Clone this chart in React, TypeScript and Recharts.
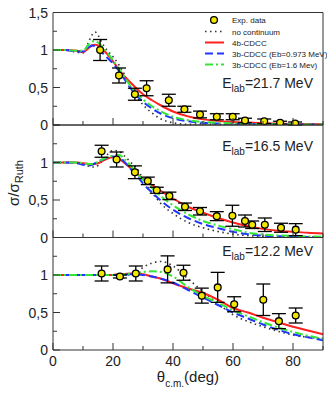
import { ComposedChart, Line, Scatter, ErrorBar, XAxis, YAxis } from 'recharts';

const W = 327;
const H = 394;
const FONT = '"Liberation Sans", Arial, sans-serif';
const axisColor = '#333';

// angle grid (deg) on which the model curves were read
const angles = [0, 4, 8, 10, 12, 13, 14, 15, 16, 18, 20, 22, 24, 26, 28, 30, 33, 36, 40, 45, 50, 55, 60, 65, 70, 75, 80, 85, 90];

// E_lab = 21.7 MeV
const noCont21 = [1, 1, 0.97, 0.96, 1.12, 1.2, 1.24, 1.2, 1.12, 1.0, 0.91, 0.8, 0.66, 0.5, 0.37, 0.27, 0.16, 0.08, 0.03, 0.01, 0.015, 0.01, 0.005, 0.01, 0.008, 0.005, 0.005, 0.004, 0.004];
const cdcc4b21 = [1, 1, 0.99, 0.97, 1.03, 1.06, 1.07, 1.06, 1.03, 0.95, 0.85, 0.74, 0.64, 0.56, 0.48, 0.41, 0.33, 0.26, 0.18, 0.115, 0.075, 0.055, 0.04, 0.032, 0.025, 0.02, 0.015, 0.012, 0.01];
const cdcc3bA21 = [1, 1, 0.98, 0.98, 1.04, 1.06, 1.05, 1.02, 0.98, 0.9, 0.82, 0.72, 0.6, 0.48, 0.39, 0.31, 0.22, 0.15, 0.09, 0.05, 0.03, 0.02, 0.015, 0.012, 0.01, 0.008, 0.007, 0.006, 0.005];
const cdcc3bB21 = [1, 1, 0.99, 0.99, 1.08, 1.11, 1.12, 1.1, 1.06, 0.97, 0.86, 0.75, 0.63, 0.51, 0.42, 0.34, 0.25, 0.18, 0.11, 0.065, 0.04, 0.03, 0.02, 0.015, 0.012, 0.01, 0.008, 0.006, 0.005];
const expX21 = [15.7, 22, 27.3, 31.2, 38.6, 43.8, 49, 54.6, 59.9, 64, 70.4, 75.7, 80.7];
const expY21 = [1.0, 0.66, 0.41, 0.49, 0.33, 0.21, 0.14, 0.11, 0.11, 0.06, 0.05, 0.03, 0.02];
const expErr21 = [0.14, 0.1, 0.08, 0.1, 0.08, 0.04, 0.045, 0.04, 0.04, 0.03, 0.03, 0.02, 0.02];

// E_lab = 16.5 MeV
const noCont16 = [1, 1, 1, 0.98, 0.95, 0.94, 0.94, 0.96, 1.0, 1.1, 1.16, 1.15, 1.08, 1.0, 0.92, 0.78, 0.6, 0.45, 0.32, 0.2, 0.13, 0.08, 0.045, 0.025, 0.015, 0.012, 0.01, 0.007, 0.005];
const cdcc4b16 = [1, 1, 1, 0.99, 0.98, 0.98, 0.98, 0.99, 1.01, 1.05, 1.07, 1.05, 0.99, 0.92, 0.85, 0.78, 0.7, 0.62, 0.52, 0.41, 0.33, 0.26, 0.2, 0.15, 0.115, 0.09, 0.075, 0.062, 0.053];
const cdcc3bA16 = [1, 1, 0.99, 0.97, 0.96, 0.97, 0.99, 1.01, 1.03, 1.06, 1.08, 1.07, 1.0, 0.91, 0.82, 0.72, 0.6, 0.49, 0.37, 0.26, 0.18, 0.125, 0.075, 0.045, 0.025, 0.018, 0.012, 0.008, 0.005];
const cdcc3bB16 = [1, 1, 1, 0.99, 0.98, 0.98, 0.99, 1.01, 1.03, 1.07, 1.09, 1.1, 1.04, 0.95, 0.86, 0.77, 0.66, 0.55, 0.43, 0.31, 0.22, 0.16, 0.11, 0.065, 0.04, 0.028, 0.02, 0.014, 0.01];
const expX16 = [16.2, 21.2, 27.3, 31.6, 34.6, 38.8, 44, 49, 54.6, 59.8, 64, 66.4, 70.6, 76, 80.9];
const expY16 = [1.15, 1.04, 0.87, 0.755, 0.63, 0.555, 0.41, 0.35, 0.285, 0.29, 0.22, 0.17, 0.17, 0.13, 0.105];
const expErr16 = [0.08, 0.1, 0.085, 0.05, 0.04, 0.05, 0.05, 0.05, 0.06, 0.14, 0.08, 0.05, 0.09, 0.06, 0.08];

// E_lab = 12.2 MeV
const noCont12 = [1, 1, 1, 1, 1, 1, 1, 1, 1, 1, 1.0, 1.0, 1.0, 1.01, 1.04, 1.1, 1.16, 1.18, 1.12, 0.95, 0.78, 0.62, 0.47, 0.38, 0.31, 0.25, 0.2, 0.17, 0.15];
const cdcc4b12 = [1, 1, 1, 1, 1, 1, 1, 1, 1, 1, 1.0, 1.01, 1.015, 1.02, 1.02, 1.01, 0.98, 0.95, 0.89, 0.82, 0.76, 0.67, 0.56, 0.5, 0.43, 0.37, 0.31, 0.26, 0.21];
const cdcc3bA12 = [1, 1, 1, 1, 1, 1, 1, 1, 1, 1, 1.0, 1.0, 1.005, 1.01, 1.01, 1.0, 0.98, 0.95, 0.9, 0.8, 0.7, 0.6, 0.5, 0.42, 0.34, 0.27, 0.21, 0.17, 0.13];
const cdcc3bB12 = [1, 1, 1, 1, 1, 1, 1, 1, 1, 1, 1.0, 1.005, 1.01, 1.02, 1.03, 1.04, 1.05, 1.04, 0.98, 0.84, 0.72, 0.63, 0.53, 0.45, 0.37, 0.3, 0.24, 0.19, 0.15];
const expX12 = [16.2, 22.3, 27.6, 38.2, 43.5, 49.6, 54.9, 60.4, 70.1, 75.3, 80.9];
const expY12 = [1.02, 0.98, 1.02, 1.075, 1.03, 0.725, 0.835, 0.61, 0.67, 0.385, 0.46];
const expErr12 = [0.1, 0.02, 0.1, 0.18, 0.1, 0.1, 0.2, 0.1, 0.21, 0.1, 0.1];

const xTicks = [0, 10, 20, 30, 40, 50, 60, 70, 80, 90];
const yTicks = [0, 0.25, 0.5, 0.75, 1, 1.25, 1.5];

const legendLabels = ['Exp. data', 'no continuum', '4b-CDCC', '3b-CDCC (Eb=0.973 MeV)', '3b-CDCC (Eb=1.6 Mev)'];

const toCurve = (ys: number[]) => angles.map((x, i) => ({ x, y: ys[i] }));
const toExp = (xs: number[], ys: number[], es: number[]) => xs.map((x, i) => ({ x, y: ys[i], err: es[i] }));

const fmt = (v: number) => String(v).replace('.', ',');
const isMajorX = (v: number) => v % 20 === 0;
const isMajorY = (v: number) => Math.abs(v * 2 - Math.round(v * 2)) < 1e-6;

const panels = [
  { top: 12.5, bottom: 125, label: '21.7', labelY: 88, yLabels: [0, 0.5, 1, 1.5], xLabels: false,
    curves: [noCont21, cdcc4b21, cdcc3bA21, cdcc3bB21], exp: toExp(expX21, expY21, expErr21) },
  { top: 125, bottom: 237.5, label: '16.5', labelY: 151, yLabels: [0, 0.5, 1], xLabels: false,
    curves: [noCont16, cdcc4b16, cdcc3bA16, cdcc3bB16], exp: toExp(expX16, expY16, expErr16) },
  { top: 237.5, bottom: 350, label: '12.2', labelY: 256, yLabels: [0, 0.5, 1], xLabels: true,
    curves: [noCont12, cdcc4b12, cdcc3bA12, cdcc3bB12], exp: toExp(expX12, expY12, expErr12) },
];

const curveStyles = [
  { stroke: '#333', strokeWidth: 1.6, strokeDasharray: '1.5 3.5' },
  { stroke: '#ff2020', strokeWidth: 2 },
  { stroke: '#2035ff', strokeWidth: 2, strokeDasharray: '8 4' },
  { stroke: '#33e633', strokeWidth: 2, strokeDasharray: '8 3 2 3' },
];

function ExpDot(props: any) {
  const { cx, cy } = props;
  return <circle cx={cx} cy={cy} r={3.4} fill="#f2e600" stroke="#000" strokeWidth={1.3} />;
}

// axis band sizes (kept non-zero so recharts draws the axes)
const BOTTOM_H = 20;
const TOP_H = 1;
const LEFT_W = 45;
const RIGHT_W = 1;

function Panel({ p }: { p: any }) {
  const tickText = { fontSize: 14, fill: '#222', fontFamily: FONT, stroke: 'none' };
  return (
    <div style={{ position: 'absolute', left: 0, top: 0 }}>
      <ComposedChart
        width={W} height={H}
        margin={{ top: p.top - TOP_H, bottom: H - p.bottom - BOTTOM_H, left: 53 - LEFT_W, right: W - 323 - RIGHT_W }}
      >
        <XAxis
          dataKey="x" type="number" domain={[0, 90]} ticks={xTicks} interval={0}
          height={BOTTOM_H} tickLine={false} tickSize={0} tickMargin={0}
          axisLine={{ stroke: axisColor, strokeWidth: 1 }}
          tick={(t: any) => (
            <g>
              <line x1={t.x} x2={t.x} y1={t.y} y2={t.y - (isMajorX(t.payload.value) ? 7 : 4)} stroke={axisColor} strokeWidth={1} />
              {p.xLabels && isMajorX(t.payload.value) && t.payload.value < 90 && (
                <text x={t.x} y={t.y + 16} textAnchor="middle" {...tickText}>{t.payload.value}</text>
              )}
            </g>
          )}
        />
        <XAxis
          xAxisId="top" orientation="top" dataKey="x" type="number" domain={[0, 90]} ticks={xTicks} interval={0}
          height={TOP_H} tickLine={false} tickSize={0} tickMargin={0}
          axisLine={{ stroke: axisColor, strokeWidth: 1 }}
          tick={(t: any) => (
            <line x1={t.x} x2={t.x} y1={t.y} y2={t.y + (isMajorX(t.payload.value) ? 7 : 4)} stroke={axisColor} strokeWidth={1} />
          )}
        />
        <YAxis
          type="number" domain={[0, 1.5]} ticks={yTicks} interval={0} allowDataOverflow
          width={LEFT_W} tickLine={false} tickSize={0} tickMargin={0}
          axisLine={{ stroke: axisColor, strokeWidth: 1 }}
          tick={(t: any) => (
            <g>
              <line x1={t.x} x2={t.x + (isMajorY(t.payload.value) ? 7 : 4)} y1={t.y} y2={t.y} stroke={axisColor} strokeWidth={1} />
              {p.yLabels.includes(t.payload.value) && (
                <text x={t.x - 5} y={t.y + 5} textAnchor="end" {...tickText}>{fmt(t.payload.value)}</text>
              )}
            </g>
          )}
        />
        <YAxis
          yAxisId="right" orientation="right" type="number" domain={[0, 1.5]} ticks={yTicks} interval={0}
          width={RIGHT_W} tickLine={false} tickSize={0} tickMargin={0}
          axisLine={{ stroke: axisColor, strokeWidth: 1 }}
          tick={(t: any) => (
            <line x1={t.x} x2={t.x - (isMajorY(t.payload.value) ? 7 : 4)} y1={t.y} y2={t.y} stroke={axisColor} strokeWidth={1} />
          )}
        />
        {p.curves.map((ys: number[], i: number) => (
          <Line
            key={i} data={toCurve(ys)} dataKey="y" type="monotone" dot={false}
            isAnimationActive={false} {...curveStyles[i]}
          />
        ))}
        <Scatter data={p.exp} dataKey="y" shape={ExpDot} isAnimationActive={false}>
          <ErrorBar dataKey="err" direction="y" width={7} stroke="#000" strokeWidth={1.3} />
        </Scatter>
      </ComposedChart>
    </div>
  );
}

export default function App() {
  const rowY = [20, 31.5, 42.5, 53.5, 64.5];
  return (
    <div style={{ position: 'absolute', left: 0, top: 0, width: W, height: H, background: '#fff', fontFamily: FONT }}>
      {panels.map((p, i) => <Panel key={i} p={p} />)}
      <svg width={W} height={H} style={{ position: 'absolute', left: 0, top: 0, pointerEvents: 'none' }}>
        {/* legend */}
        <g fontFamily={FONT} fontSize={8} fill="#222">
          <circle cx={214} cy={rowY[0]} r={3.4} fill="#f2e600" stroke="#000" strokeWidth={1.3} />
          {curveStyles.map((s, i) => (
            <line key={i} x1={205} x2={224} y1={rowY[i + 1]} y2={rowY[i + 1]} {...s} />
          ))}
          {legendLabels.map((l, i) => (
            <text key={l} x={232} y={rowY[i] + 3}>{l}</text>
          ))}
        </g>
        {/* energy labels */}
        {panels.map((p) => (
          <text key={p.label} x={313} y={p.labelY} textAnchor="end" fontFamily={FONT} fontSize={14} fill="#222">
            E<tspan fontSize={10} dy={4}>lab</tspan><tspan dy={-4}>={p.label} MeV</tspan>
          </text>
        ))}
        {/* axis titles */}
        <text transform="translate(19,183) rotate(-90)" textAnchor="middle" fontFamily={FONT} fontSize={15} fill="#222">
          σ/σ<tspan fontSize={11} dy={4}>Ruth</tspan>
        </text>
        <text x={188} y={382} textAnchor="middle" fontFamily={FONT} fontSize={15} fill="#222">
          θ<tspan fontSize={10} dy={5}>c.m.</tspan><tspan dy={-5}>(deg)</tspan>
        </text>
      </svg>
    </div>
  );
}
